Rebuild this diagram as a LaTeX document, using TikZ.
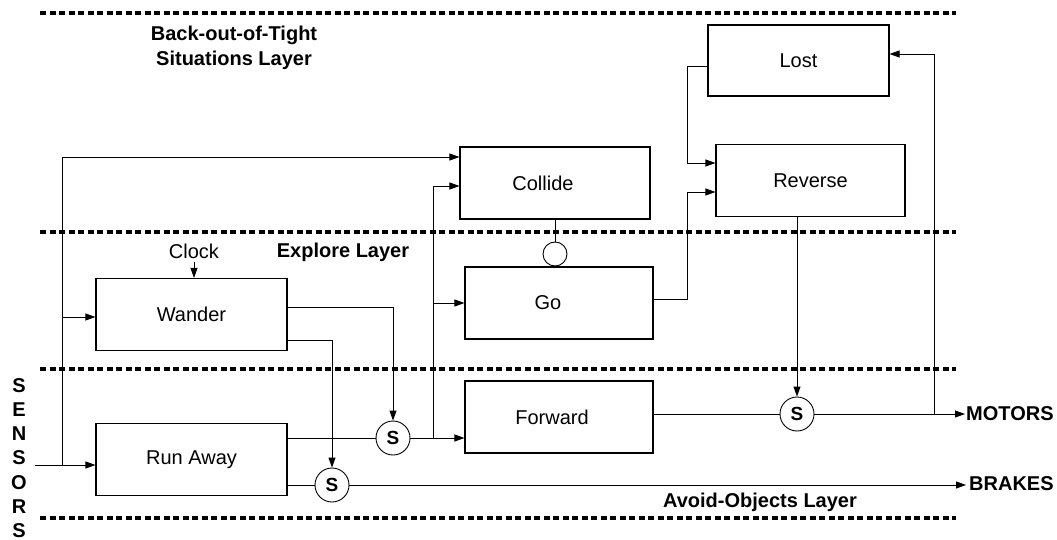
\documentclass[tikz,border=0pt]{standalone}
\usepackage{fontspec}
\setmainfont{Liberation Sans}
\usetikzlibrary{arrows.meta}
\begin{document}
\begin{tikzpicture}[x=1pt,y=-1pt,
  box/.style={draw,line width=1.1pt,minimum width=189pt,minimum height=72pt,inner sep=0pt,font=\fontsize{20}{24}\selectfont},
  boxtext/.style={font=\fontsize{20}{24}\selectfont,inner sep=0pt},
  sw/.style={draw,circle,line width=0.9pt,minimum size=34pt,inner sep=0pt,font=\bfseries\fontsize{19}{22}\selectfont},
  inh/.style={draw,circle,line width=0.9pt,minimum size=24pt,inner sep=0pt},
  layer/.style={line width=4pt,dash pattern=on 6pt off 3.5pt},
  conn/.style={line width=0.9pt},
  arr/.style={conn,-{Triangle[length=10pt,width=7pt]}},
  lbl/.style={font=\bfseries\fontsize{20}{25}\selectfont,inner sep=0pt},
]
\useasboundingbox[fill=white] (0,0) rectangle (1057,540);

% layer separators
\coordinate (d1l) at (40,13.5);  \coordinate (d1r) at (956,13.5);
\coordinate (d2l) at (40,231.5); \coordinate (d2r) at (956,231.5);
\coordinate (d3l) at (40,369);   \coordinate (d3r) at (956,369);
\coordinate (d4l) at (40,518);   \coordinate (d4r) at (956,518);
\draw[layer] (d1l) -- (d1r);
\draw[layer] (d2l) -- (d2r);
\draw[layer] (d3l) -- (d3r);
\draw[layer] (d4l) -- (d4r);

% boxes
\node[box,minimum width=181pt,minimum height=71pt] (lost) at (798.5,60.5) {Lost};
\node[box,minimum width=189pt] (reverse) at (810.5,180.5) {Reverse};
\node[box,minimum width=190pt,label={[boxtext,xshift=-12pt]center:Collide}] (collide) at (555,183) {};
\node[box,minimum width=188pt,label={[boxtext,xshift=-11pt]center:Go}] (go) at (559,303) {};
\node[box,minimum width=188pt,label={[boxtext,xshift=-7pt]center:Forward}] (forward) at (559,417) {};
\node[box,minimum width=191pt] (wander) at (191.5,314.5) {Wander};
\node[box,minimum width=191pt] (runaway) at (191.5,459.5) {Run Away};

% suppressor / inhibitor nodes
\node[sw] (s1) at (393,438) {S};
\node[sw] (s2) at (332,485) {S};
\node[sw] (s3) at (797,414) {S};
\node[inh] (inh) at (555,254) {};

% labels
\node[lbl,align=center] (lblback) at (234,48) {Back-out-of-Tight\\Situations Layer};
\node[lbl] (lblexp) at (343,252) {Explore Layer};
\node[lbl] (lblavoid) at (760,502) {Avoid-Objects Layer};
\node[font=\fontsize{20}{24}\selectfont] (clock) at (194,251) {Clock};
\node[lbl,anchor=west] (motors) at (966,414) {MOTORS};
\node[lbl,anchor=west] (brakes) at (969,484) {BRAKES};
\node[lbl,align=center,font=\bfseries\fontsize{20}{24.2}\selectfont] (sensors) at (19,458) {S\\E\\N\\S\\O\\R\\S};

% sensor input
\coordinate (sin) at (35,465);
\coordinate (sj) at (62,465);
\coordinate (stop) at (62,157);
\coordinate (swa) at (62,317);
\draw[arr] (sin) -- (sin -| runaway.west);
\draw[arr] (sj) -- (stop) -- (stop -| collide.west);
\draw[arr] (swa) -- (swa -| wander.west);

% clock
\draw[arr] (clock.south) -- (clock.south |- wander.north);

% wander outputs
\coordinate (wo1) at (0,307);
\coordinate (wo2) at (0,340);
\draw[arr] (wander.east |- wo1) -| (s1.north);
\draw[arr] (wander.east |- wo2) -| (s2.north);

% run away outputs
\draw[conn] (runaway.east |- s1.west) -- (s1.west);
\draw[conn] (runaway.east |- s2.west) -- (s2.west);

% s1 to forward, go, collide
\coordinate (jx) at (433,438);
\coordinate (jtop) at (433,186);
\draw[arr] (s1.east) -- (s1.east -| forward.west);
\draw[arr] (jx) -- (jtop) -- (jtop -| collide.west);
\draw[arr] (jx |- go.west) -- (go.west);

% collide inhibits go
\draw[conn] (collide.south) -- (inh.north);

% brakes
\draw[arr,shorten >=3pt] (s2.east) -- (s2.east -| brakes.west);

% forward to motors
\draw[conn] (forward.east |- s3.west) -- (s3.west);
\draw[arr,shorten >=1pt] (s3.east) -- (s3.east -| motors.west);
\draw[arr] (s3.north |- reverse.south) -- (s3.north);

% motors feedback to lost
\coordinate (mj) at (934,414);
\coordinate (mt) at (934,54);
\draw[arr] (mj) -- (mt) -- (mt -| lost.east);

% lost to reverse
\coordinate (lj) at (687,66);
\coordinate (lb) at (687,163);
\draw[arr] (lost.west |- lj) -- (lj) -- (lb) -- (lb -| reverse.west);

% go to reverse
\coordinate (gj) at (687,299);
\coordinate (gt) at (687,192);
\draw[arr] (go.east |- gj) -- (gj) -- (gt) -- (gt -| reverse.west);
\end{tikzpicture}
\end{document}
